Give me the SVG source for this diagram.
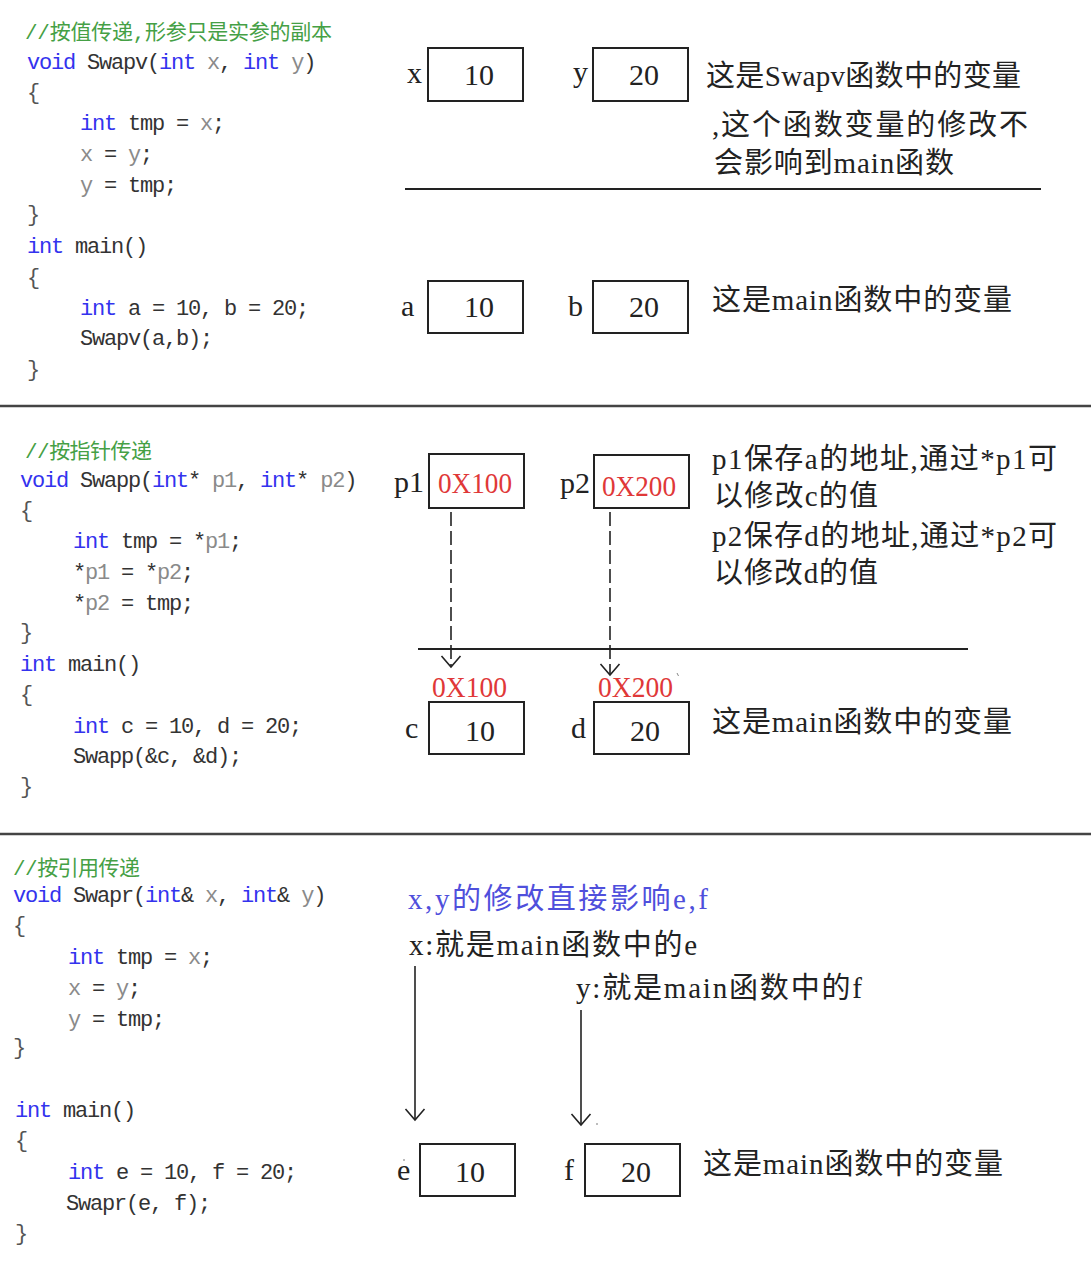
<svg xmlns="http://www.w3.org/2000/svg" width="1091" height="1265" viewBox="0 0 1091 1265">
<style>
.code{font-family:"Liberation Mono","Noto Sans CJK SC",monospace;font-size:22px;letter-spacing:-1.2px;fill:#333}
.kw{fill:#3333ee}
.pm{fill:#8a8a8a}
.br{fill:#555}
.cm{font-family:"Liberation Mono","Noto Sans CJK SC",monospace;font-size:21px;fill:#45a045}
.lbl{font-family:"Liberation Serif","Noto Sans CJK SC",serif;font-size:30px;fill:#222}
.num{font-family:"Liberation Serif",serif;font-size:30px;fill:#222;text-anchor:middle}
.red{font-family:"Liberation Serif",serif;font-size:30px;fill:#e03838}
.desc{font-family:"Liberation Serif","Noto Sans CJK SC",serif;font-size:29px;fill:#222}
.blue{fill:#4f4fdc}
.box{fill:#fff;stroke:#222;stroke-width:2}
.sep{stroke:#444;stroke-width:2.5}
.hl{stroke:#222;stroke-width:2}
.arr{fill:none;stroke:#222;stroke-width:1.6;marker-end:url(#v)}
.dash{stroke-dasharray:14 5}
</style>
<defs>
<marker id="v" markerUnits="userSpaceOnUse" markerWidth="26" markerHeight="26" viewBox="-13 -13 26 26" refX="0" refY="0" orient="auto">
<path d="M-11,-9.5 L0,0 L-11,9.5" fill="none" stroke="#222" stroke-width="1.6"/>
</marker>
</defs>
<rect width="1091" height="1265" fill="#fff"/>

<!-- Section 1: code -->
<g id="code-swapv">
<text class="cm" x="25" y="39" textLength="307">//按值传递,形参只是实参的副本</text>
<text class="code" x="27" y="69"><tspan class="kw">void</tspan> Swapv(<tspan class="kw">int</tspan> <tspan class="pm">x</tspan>, <tspan class="kw">int</tspan> <tspan class="pm">y</tspan>)</text>
<text class="code br" x="27" y="99">{</text>
<text class="code" x="80" y="130"><tspan class="kw">int</tspan> tmp = <tspan class="pm">x</tspan>;</text>
<text class="code" x="80" y="161"><tspan class="pm">x</tspan> = <tspan class="pm">y</tspan>;</text>
<text class="code" x="80" y="192"><tspan class="pm">y</tspan> = tmp;</text>
<text class="code br" x="27" y="221">}</text>
<text class="code" x="27" y="253"><tspan class="kw">int</tspan> main()</text>
<text class="code br" x="27" y="284">{</text>
<text class="code" x="80" y="315"><tspan class="kw">int</tspan> a = 10, b = 20;</text>
<text class="code" x="80" y="345">Swapv(a,b);</text>
<text class="code br" x="27" y="376">}</text>
</g>

<g id="var-x"><text class="lbl" x="407" y="83">x</text><rect class="box" x="428" y="48" width="95" height="53"/><text class="num" x="479" y="85">10</text></g>
<g id="var-y"><text class="lbl" x="573" y="82">y</text><rect class="box" x="593" y="48" width="95" height="53"/><text class="num" x="644" y="85">20</text></g>
<g id="note-swapv">
<text class="desc" x="706" y="86" textLength="315">这是Swapv函数中的变量</text>
<text class="desc" x="712" y="135" textLength="316">,这个函数变量的修改不</text>
<text class="desc" x="714" y="173" textLength="240">会影响到main函数</text>
</g>
<line class="hl" x1="405" y1="189" x2="1041" y2="189"/>
<g id="var-a"><text class="lbl" x="401" y="316">a</text><rect class="box" x="428" y="281" width="95" height="52"/><text class="num" x="479" y="317">10</text></g>
<g id="var-b"><text class="lbl" x="568" y="316">b</text><rect class="box" x="593" y="281" width="95" height="52"/><text class="num" x="644" y="317">20</text></g>
<g id="note-main1"><text class="desc" x="712" y="310" textLength="300">这是main函数中的变量</text></g>

<line class="sep" x1="0" y1="406" x2="1091" y2="406"/>

<!-- Section 2 -->
<g id="code-swapp">
<text class="cm" x="25" y="458" textLength="127">//按指针传递</text>
<text class="code" x="20" y="487"><tspan class="kw">void</tspan> Swapp(<tspan class="kw">int</tspan>* <tspan class="pm">p1</tspan>, <tspan class="kw">int</tspan>* <tspan class="pm">p2</tspan>)</text>
<text class="code br" x="20" y="517">{</text>
<text class="code" x="73" y="548"><tspan class="kw">int</tspan> tmp = *<tspan class="pm">p1</tspan>;</text>
<text class="code" x="73" y="579">*<tspan class="pm">p1</tspan> = *<tspan class="pm">p2</tspan>;</text>
<text class="code" x="73" y="610">*<tspan class="pm">p2</tspan> = tmp;</text>
<text class="code br" x="20" y="639">}</text>
<text class="code" x="20" y="671"><tspan class="kw">int</tspan> main()</text>
<text class="code br" x="20" y="701">{</text>
<text class="code" x="73" y="733"><tspan class="kw">int</tspan> c = 10, d = 20;</text>
<text class="code" x="73" y="763">Swapp(&amp;c, &amp;d);</text>
<text class="code br" x="20" y="793">}</text>
</g>

<g id="var-p1"><text class="lbl" x="394" y="492" textLength="30">p1</text><rect class="box" x="429" y="454" width="95" height="54"/><text class="red" x="438" y="493" textLength="74" lengthAdjust="spacingAndGlyphs">0X100</text></g>
<g id="var-p2"><text class="lbl" x="560" y="493" textLength="30">p2</text><rect class="box" x="594" y="455" width="95" height="53"/><text class="red" x="602" y="496" textLength="74" lengthAdjust="spacingAndGlyphs">0X200</text></g>
<g id="note-pointer">
<text class="desc" x="712" y="469" textLength="345">p1保存a的地址,通过*p1可</text>
<text class="desc" x="714" y="506" textLength="164">以修改c的值</text>
<text class="desc" x="712" y="546" textLength="345">p2保存d的地址,通过*p2可</text>
<text class="desc" x="714" y="583" textLength="164">以修改d的值</text>
</g>
<line class="hl" x1="418" y1="649" x2="968" y2="649"/>
<g id="var-c"><text class="red" x="432" y="697" textLength="75" lengthAdjust="spacingAndGlyphs">0X100</text><text class="lbl" x="405" y="738">c</text><rect class="box" x="429" y="702" width="95" height="52"/><text class="num" x="480" y="741">10</text></g>
<g id="var-d"><text class="red" x="598" y="697" textLength="75" lengthAdjust="spacingAndGlyphs">0X200</text><path d="M677,673 l1.5,3" stroke="#888" stroke-width="1"/><text class="lbl" x="571" y="738">d</text><rect class="box" x="594" y="702" width="95" height="52"/><text class="num" x="645" y="741">20</text></g>
<g id="note-main2"><text class="desc" x="712" y="732" textLength="300">这是main函数中的变量</text></g>

<line class="sep" x1="0" y1="834" x2="1091" y2="834"/>

<!-- Section 3 -->
<g id="code-swapr">
<text class="cm" x="13" y="875" textLength="127">//按引用传递</text>
<text class="code" x="13" y="902"><tspan class="kw">void</tspan> Swapr(<tspan class="kw">int</tspan>&amp; <tspan class="pm">x</tspan>, <tspan class="kw">int</tspan>&amp; <tspan class="pm">y</tspan>)</text>
<text class="code br" x="13" y="932">{</text>
<text class="code" x="68" y="964"><tspan class="kw">int</tspan> tmp = <tspan class="pm">x</tspan>;</text>
<text class="code" x="68" y="995"><tspan class="pm">x</tspan> = <tspan class="pm">y</tspan>;</text>
<text class="code" x="68" y="1026"><tspan class="pm">y</tspan> = tmp;</text>
<text class="code br" x="13" y="1054">}</text>
<text class="code" x="15" y="1117"><tspan class="kw">int</tspan> main()</text>
<text class="code br" x="15" y="1147">{</text>
<text class="code" x="68" y="1179"><tspan class="kw">int</tspan> e = 10, f = 20;</text>
<text class="code" x="66" y="1210">Swapr(e, f);</text>
<text class="code br" x="15" y="1240">}</text>
</g>

<g id="note-ref">
<text class="desc blue" x="408" y="909" textLength="300">x,y的修改直接影响e,f</text>
<text class="desc" x="409" y="955" textLength="288">x:就是main函数中的e</text>
<text class="desc" x="576" y="998" textLength="286">y:就是main函数中的f</text>
</g>
<g id="var-e"><text class="lbl" x="397" y="1180">e</text><circle cx="404" cy="1160" r="0.8" fill="#666"/><rect class="box" x="420" y="1144" width="95" height="52"/><text class="num" x="470" y="1182">10</text></g>
<g id="var-f"><text class="lbl" x="564" y="1180">f</text><rect class="box" x="585" y="1144" width="95" height="52"/><text class="num" x="636" y="1182">20</text></g>
<g id="note-main3"><text class="desc" x="703" y="1174" textLength="300">这是main函数中的变量</text></g>

<g id="connectors">
<path class="arr dash" d="M451,512 V667"/>
<path class="arr dash" d="M610,512 V675"/>
<path class="arr" d="M415,966 V1120"/>
<path class="arr" d="M581,1010 V1125"/>
<circle cx="597" cy="1124" r="0.8" fill="#666"/>
</g>
</svg>
